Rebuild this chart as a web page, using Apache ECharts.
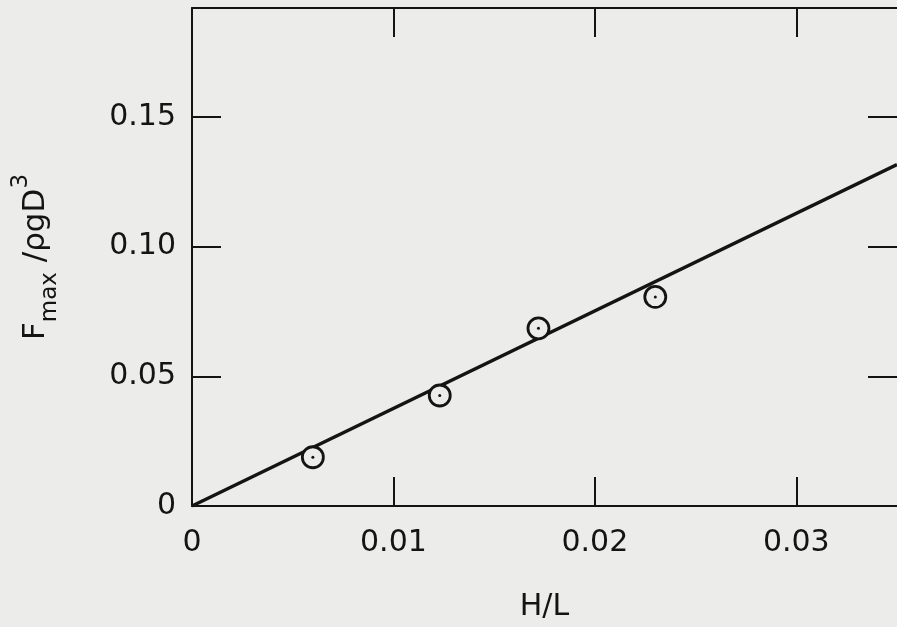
<!DOCTYPE html>
<html>
<head>
<meta charset="utf-8">
<script src="https://cdn.jsdelivr.net/npm/echarts@6/dist/echarts.min.js"></script>
<style>
html,body{margin:0;padding:0;background:#ececea;}
#c{width:897px;height:627px;}
</style>
</head>
<body>
<div id="c"></div>
<script>
// Measured points (H/L, Fmax/ρgD^3)
var hl = [0.0060, 0.0123, 0.0172, 0.0230];
var fmax = [0.0188, 0.0426, 0.0685, 0.0806];
// Fitted straight line endpoints
var fitX = [0, 0.035];
var fitY = [0, 0.1316];
// Axis ranges / ticks
var xMin = 0, xMax = 0.035, xStep = 0.01;
var yMin = 0, yMax = 0.192, yStep = 0.05;
var xTicks = [0, 0.01, 0.02, 0.03];
var yTicks = [0, 0.05, 0.10, 0.15];

var FONT = 'DejaVu Sans';
var INK = '#141414';
var BG = '#ececea';

var pts = hl.map(function (x, i) { return [x, fmax[i]]; });
var fit = fitX.map(function (x, i) { return [x, fitY[i]]; });

function fmt(v) { return v === 0 ? '0' : v.toFixed(2); }

function frameAxis(extra, ticks) {
  var a = {
    type: 'value',
    axisLine: {onZero: false, lineStyle: {color: INK, width: 2}},
    axisTick: {inside: true, length: 29, customValues: ticks, lineStyle: {color: INK, width: 2}},
    splitLine: {show: false}
  };
  for (var k in extra) a[k] = extra[k];
  return a;
}

var chart = echarts.init(document.getElementById('c'), null, {renderer: 'canvas'});
chart.setOption({
  backgroundColor: BG,
  animation: false,
  grid: {left: 192, top: 8, right: 0, bottom: 118},
  xAxis: [frameAxis({
    min: xMin, max: xMax, interval: xStep, position: 'bottom',
    axisLabel: {formatter: fmt, customValues: xTicks, fontFamily: FONT, fontSize: 30, color: INK, margin: 22},
    name: 'H/L', nameLocation: 'middle', nameGap: 86,
    nameTextStyle: {fontFamily: FONT, fontSize: 30, color: INK, verticalAlign: 'top'}
  }, xTicks), frameAxis({
    min: xMin, max: xMax, interval: xStep, position: 'top',
    axisLabel: {show: false}
  }, xTicks)],
  yAxis: [frameAxis({
    min: yMin, max: yMax, interval: yStep, position: 'left',
    axisLabel: {formatter: fmt, customValues: yTicks, fontFamily: FONT, fontSize: 30, color: INK, margin: 16},
    name: '{b|F}{s|max}{b| /ρgD}{p|3}',
    nameLocation: 'middle', nameRotate: 90, nameGap: 130,
    nameTextStyle: {
      color: INK,
      rich: {
        b: {fontFamily: FONT, fontSize: 31, color: INK, lineHeight: 52, verticalAlign: 'middle'},
        s: {fontFamily: FONT, fontSize: 23, color: INK, lineHeight: 52, verticalAlign: 'bottom'},
        p: {fontFamily: FONT, fontSize: 23, color: INK, lineHeight: 52, verticalAlign: 'top'}
      }
    }
  }, yTicks), frameAxis({
    min: yMin, max: yMax, interval: yStep, position: 'right',
    axisLine: {show: false, onZero: false},
    axisLabel: {show: false}
  }, yTicks)],
  series: [{
    type: 'line', data: fit, xAxisIndex: 0, yAxisIndex: 0,
    showSymbol: false, symbol: 'none',
    lineStyle: {color: INK, width: 3.5}, z: 2
  }, {
    type: 'scatter', data: pts, xAxisIndex: 0, yAxisIndex: 0,
    symbol: 'circle', symbolSize: 21,
    itemStyle: {color: BG, borderColor: INK, borderWidth: 2.8, opacity: 1}, z: 3
  }, {
    type: 'scatter', data: pts, xAxisIndex: 0, yAxisIndex: 0,
    symbol: 'circle', symbolSize: 3,
    itemStyle: {color: INK, opacity: 1}, z: 4
  }]
});
</script>
</body>
</html>
